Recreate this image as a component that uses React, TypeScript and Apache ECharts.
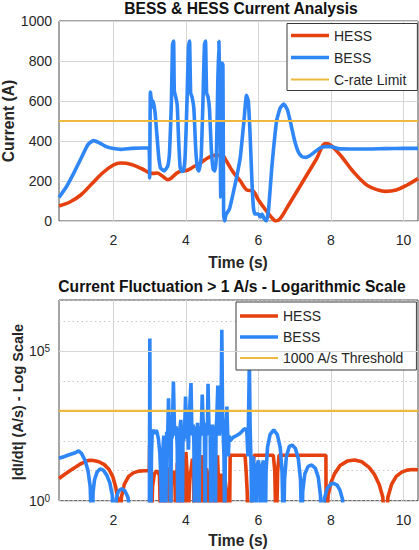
import React, { useEffect, useRef } from 'react';
import * as echarts from 'echarts';

// ---------- data ----------
const timeTicks = [2, 4, 6, 8, 10];
const timeRange = [0.5, 10.4];
const cRateLimit = 500;
const rateThreshold = 1000;

// Current (A) vs time (s)
const hessCurrent: [number, number][] = [
  [0.5, 75], [0.8, 95], [1.1, 130], [1.4, 185], [1.7, 240], [2.0, 280], [2.2, 290], [2.5, 283],
  [2.8, 260], [3.0, 240], [3.1, 238], [3.2, 240], [3.35, 225], [3.5, 207], [3.6, 215], [3.75, 240],
  [3.9, 252], [4.0, 252], [4.2, 270], [4.4, 290], [4.6, 315], [4.8, 328], [5.0, 328], [5.1, 305],
  [5.3, 245], [5.5, 200], [5.68, 155], [5.85, 150], [6.0, 105], [6.2, 55], [6.4, 10], [6.48, 0],
  [6.6, 12], [6.8, 70], [7.0, 130], [7.3, 220], [7.6, 310], [7.85, 387], [8.0, 378], [8.3, 320],
  [8.6, 250], [9.0, 178], [9.3, 155], [9.5, 148], [9.8, 155], [10.1, 180], [10.4, 212],
];

const bessCurrent: [number, number][] = [
  [0.5, 118], [0.7, 170], [0.9, 237], [1.1, 310], [1.3, 382], [1.45, 402], [1.6, 392], [1.8, 372],
  [2.0, 362], [2.2, 358], [2.5, 363], [2.8, 365], [2.98, 365], [3.0, 215], [3.02, 645], [3.05, 600],
  [3.07, 570], [3.1, 600], [3.15, 540], [3.2, 430], [3.25, 320], [3.3, 265], [3.4, 250], [3.5, 275],
  [3.55, 350], [3.6, 600], [3.63, 880], [3.66, 900], [3.68, 650], [3.72, 620], [3.76, 580], [3.8, 400],
  [3.84, 270], [3.88, 248], [3.93, 250], [3.98, 330], [4.03, 600], [4.07, 870], [4.1, 900], [4.13, 640],
  [4.17, 620], [4.22, 560], [4.27, 360], [4.32, 260], [4.36, 250], [4.42, 320], [4.47, 600], [4.51, 880],
  [4.54, 900], [4.57, 640], [4.61, 620], [4.65, 560], [4.7, 360], [4.75, 260], [4.8, 250], [4.84, 330],
  [4.88, 700], [4.91, 900], [4.94, 520], [4.96, 120], [4.98, 500], [5.0, 790], [5.02, 780], [5.04, 30],
  [5.07, 0], [5.1, 30], [5.2, 60], [5.3, 137], [5.4, 220], [5.5, 320], [5.6, 500], [5.67, 628],
  [5.72, 600], [5.77, 430], [5.82, 200], [5.86, 70], [5.9, 35], [6.0, 35], [6.05, 20], [6.1, 35],
  [6.15, 15], [6.22, 0], [6.28, 60], [6.37, 270], [6.5, 500], [6.6, 565], [6.7, 585], [6.8, 555],
  [6.9, 480], [7.0, 400], [7.1, 345], [7.2, 322], [7.3, 318], [7.4, 325], [7.55, 345], [7.7, 365],
  [7.85, 372], [8.0, 372], [8.2, 362], [8.5, 360], [9.0, 360], [9.5, 362], [10.0, 363], [10.4, 363],
];

// |dI/dt| (A/s) vs time (s)
const hessRate: [number, number][] = [
  [0.5, 5.5], [0.65, 7.5], [0.8, 10], [0.95, 13], [1.1, 17], [1.25, 21], [1.35, 22.5], [1.45, 22],
  [1.6, 20], [1.75, 16], [1.88, 11], [1.98, 6.5], [2.06, 3], [2.12, 1.2], [2.17, 0.05], [2.22, 1.3],
  [2.3, 3.5], [2.42, 6.5], [2.55, 8.5], [2.7, 9.7], [2.85, 10], [2.99, 10], [3.0, 72], [3.02, 20],
  [3.04, 0.05], [3.08, 3], [3.13, 8], [3.2, 10], [3.27, 7], [3.31, 0.05], [3.34, 12], [3.37, 2],
  [3.4, 0.05], [3.45, 5], [3.5, 13], [3.53, 3], [3.56, 0.05], [3.6, 6], [3.66, 10], [3.7, 3],
  [3.73, 0.05], [3.76, 18], [3.79, 5], [3.82, 0.05], [3.86, 8], [3.9, 12], [3.94, 3], [3.97, 0.05],
  [4.0, 42], [4.03, 10], [4.06, 0.05], [4.1, 6], [4.14, 10], [4.18, 25], [4.21, 4], [4.24, 0.05],
  [4.28, 8], [4.32, 12], [4.36, 2], [4.39, 0.05], [4.42, 33], [4.46, 8], [4.49, 0.05], [4.53, 9],
  [4.57, 12], [4.61, 3], [4.64, 0.05], [4.68, 10], [4.72, 12], [4.76, 4], [4.79, 0.05], [4.83, 10],
  [4.87, 33], [4.9, 4], [4.93, 0.05], [4.97, 8], [5.0, 4], [5.03, 0.05], [5.08, 5], [5.12, 2],
  [5.16, 0.05], [5.2, 0.05], [5.22, 33], [5.63, 33], [5.66, 10], [5.69, 2], [5.72, 0.05], [5.78, 0.05],
  [5.82, 3], [5.85, 15], [5.88, 33], [6.41, 33], [6.45, 10], [6.49, 0.05], [6.53, 10], [6.57, 33],
  [7.86, 33], [7.87, 0.05], [7.92, 1.5], [8.0, 4], [8.1, 8], [8.25, 15], [8.45, 21], [8.65, 23],
  [8.85, 20], [9.05, 13], [9.2, 7.5], [9.33, 3.5], [9.43, 1.3], [9.5, 0.05], [9.57, 1.3], [9.67, 3.5],
  [9.8, 6.5], [9.95, 9], [10.1, 10.5], [10.25, 11], [10.4, 10.8],
];

const bessRate: [number, number][] = [
  [0.5, 26], [0.65, 30], [0.8, 35], [0.95, 40], [1.04, 46], [1.12, 38], [1.22, 22], [1.3, 10],
  [1.36, 3], [1.41, 0.05], [1.44, 2], [1.48, 5], [1.55, 9], [1.63, 11.5], [1.72, 10.5], [1.82, 7],
  [1.9, 4], [1.97, 1.5], [2.02, 0.05], [2.05, 0.05], [2.08, 1.2], [2.14, 2.1], [2.23, 2.5], [2.32, 2.1],
  [2.4, 1.3], [2.45, 0.5], [2.48, 0.05], [2.99, 0.05], [3.005, 260000], [3.015, 5], [3.03, 0.05],
  [3.05, 30], [3.07, 200], [3.1, 230], [3.14, 170], [3.17, 220], [3.2, 200], [3.24, 120], [3.28, 40],
  [3.31, 5], [3.33, 0.05], [3.36, 40], [3.39, 150], [3.42, 30], [3.44, 0.05], [3.47, 200],
  [3.49, 60], [3.52, 2600], [3.54, 300], [3.56, 80], [3.58, 0.05], [3.6, 250], [3.62, 120],
  [3.655, 9500], [3.68, 400], [3.7, 150], [3.72, 300], [3.74, 250], [3.76, 60], [3.78, 0.05],
  [3.8, 120], [3.82, 40], [3.84, 300], [3.86, 500], [3.88, 80], [3.9, 0.05], [3.92, 200], [3.94, 100],
  [3.97, 400], [3.99, 3000], [4.01, 300], [4.03, 120], [4.05, 250], [4.07, 50], [4.09, 600],
  [4.14, 8500], [4.16, 400], [4.18, 150], [4.2, 350], [4.22, 80], [4.24, 0.05], [4.26, 150],
  [4.28, 300], [4.3, 80], [4.32, 400], [4.34, 30], [4.36, 0.05], [4.38, 100], [4.4, 300], [4.42, 150],
  [4.45, 3500], [4.47, 600], [4.49, 200], [4.51, 300], [4.53, 0.05], [4.55, 200], [4.57, 400],
  [4.59, 150], [4.61, 8000], [4.63, 500], [4.65, 150], [4.67, 250], [4.69, 0.05], [4.71, 120],
  [4.73, 350], [4.75, 100], [4.77, 300], [4.79, 40], [4.81, 0.05], [4.83, 250], [4.85, 500],
  [4.88, 7000], [4.9, 600], [4.92, 150], [4.94, 300], [4.97, 1200], [4.99, 510000], [5.01, 800],
  [5.03, 150], [5.05, 30], [5.07, 0.05], [5.09, 150], [5.11, 300], [5.13, 1400], [5.15, 200],
  [5.17, 30], [5.19, 150], [5.22, 100], [5.3, 130], [5.4, 150], [5.5, 180], [5.58, 230],
  [5.64, 260], [5.68, 200], [5.71, 30], [5.75, 50000], [5.77, 300], [5.8, 10], [5.82, 0.05], [5.86, 30],
  [5.9, 5], [5.92, 0.05], [5.96, 15], [6.0, 22], [6.04, 5], [6.06, 0.05], [6.1, 15], [6.14, 22],
  [6.17, 5], [6.19, 0.05], [6.21, 10], [6.25, 60], [6.32, 160], [6.42, 230], [6.52, 160], [6.6, 60],
  [6.65, 10], [6.69, 0.05], [6.72, 5], [6.77, 30], [6.85, 65], [6.93, 72], [7.02, 55], [7.1, 25],
  [7.16, 5], [7.2, 0.05], [7.22, 2], [7.28, 8], [7.37, 14], [7.47, 15.5], [7.57, 12], [7.65, 6],
  [7.71, 1.5], [7.75, 0.05], [7.8, 0.05], [7.82, 1.2], [7.9, 2.6], [8.0, 3.6], [8.07, 3.8], [8.17, 3.3],
  [8.25, 2.2], [8.32, 1.1], [8.35, 0.05], [10.4, 0.05],
];

// ---------- style ----------
const FONT = '"Liberation Sans", Arial, Helvetica, sans-serif';
const RED = '#E4410F';
const BLUE = '#2F86F6';
const YEL = '#EDB93E';
const GRID_C = '#d6d6d6';
const AX_C = '#4a4a4a';
const TXT = '#262626';
const THICK_ICON = 'path://M0 0H38V3.6H0Z';
const THIN_ICON = 'path://M0 0H38V2.2H0Z';

function logLabel(v: number): string {
  const e = Math.log10(v);
  const n = Math.round(e);
  if (Math.abs(e - n) > 1e-6) return '';
  if (n === 0 || n === 5) return `{b|10}{s|${n}}`;
  return '';
}

export default function App() {
  const ref = useRef<HTMLDivElement>(null);
  useEffect(() => {
    if (!ref.current) return;
    const chart = echarts.init(ref.current, undefined, { renderer: 'svg' });
    const xAxisBase = (gi: number) => ({
      type: 'value',
      gridIndex: gi,
      min: timeRange[0],
      max: timeRange[1],
      axisLine: { show: false },
      axisTick: { show: false, customValues: timeTicks },
      axisLabel: { customValues: timeTicks, color: TXT, fontSize: 14, fontFamily: FONT, margin: 12 },
      splitLine: { show: true, lineStyle: { color: GRID_C, width: 1 } },
    });
    const legendBase = {
      orient: 'vertical', itemWidth: 38, itemHeight: 14,
      borderColor: '#3a3a3a', borderWidth: 1, backgroundColor: '#ffffff',
      selectedMode: false, textStyle: { fontSize: 14, color: TXT, fontFamily: FONT },
    };
    const option: any = {
      animation: false,
      backgroundColor: '#ffffff',
      grid: [
        { left: 59, top: 21, width: 359, height: 200, show: true, borderColor: AX_C, borderWidth: 1, backgroundColor: 'transparent' },
        { left: 59, top: 300, width: 359, height: 200.7, show: true, borderColor: AX_C, borderWidth: 1, backgroundColor: 'transparent' },
      ],
      xAxis: [xAxisBase(0), xAxisBase(1)],
      yAxis: [
        {
          type: 'value', gridIndex: 0, min: 0, max: 1000, interval: 200,
          axisLine: { show: false }, axisTick: { show: false },
          axisLabel: { color: TXT, fontSize: 14, fontFamily: FONT, margin: 7, formatter: (v: number) => String(v) },
          splitLine: { show: true, lineStyle: { color: GRID_C, width: 1 } },
        },
        {
          type: 'log', gridIndex: 1, logBase: 10, min: 1, max: 5e6,
          axisLine: { show: false }, axisTick: { show: false },
          axisLabel: {
            formatter: logLabel, margin: 9, color: TXT, fontFamily: FONT,
            rich: {
              b: { fontSize: 14, lineHeight: 14, padding: [7, 0, 0, 0], color: TXT, fontFamily: FONT, verticalAlign: 'bottom' },
              s: { fontSize: 10, lineHeight: 12, color: TXT, fontFamily: FONT, verticalAlign: 'top' },
            },
          },
          splitLine: { show: true, lineStyle: { color: '#c4c4c4', width: 1, type: [1.5, 3] } },
        },
      ],
      legend: [
        {
          ...legendBase, left: 287, top: 23.5, itemGap: 8, padding: [5, 11, 4, 4],
          data: [
            { name: 'HESS', icon: THICK_ICON },
            { name: 'BESS', icon: THICK_ICON },
            { name: 'C-rate Limit', icon: THIN_ICON },
          ],
        },
        {
          ...legendBase, left: 236, top: 302, itemGap: 7, padding: [7, 12, 5, 4],
          data: [
            { name: 'HESS', icon: THICK_ICON },
            { name: 'BESS', icon: THICK_ICON },
            { name: '1000 A/s Threshold', icon: THIN_ICON },
          ],
        },
      ],
      graphic: [
        { type: 'text', x: 241, y: 8, style: { text: 'BESS & HESS Current Analysis', font: `bold 15.6px ${FONT}`, fill: '#111', align: 'center', verticalAlign: 'middle' } },
        { type: 'text', x: 232, y: 286, style: { text: 'Current Fluctuation > 1 A/s - Logarithmic Scale', font: `bold 15.6px ${FONT}`, fill: '#111', align: 'center', verticalAlign: 'middle' } },
        { type: 'text', x: 238, y: 262, style: { text: 'Time (s)', font: `bold 15.6px ${FONT}`, fill: TXT, align: 'center', verticalAlign: 'middle' } },
        { type: 'text', x: 238, y: 540, style: { text: 'Time (s)', font: `bold 15.6px ${FONT}`, fill: TXT, align: 'center', verticalAlign: 'middle' } },
        { type: 'text', x: 8, y: 121, rotation: Math.PI / 2, style: { text: 'Current (A)', font: `bold 15.6px ${FONT}`, fill: TXT, align: 'center', verticalAlign: 'middle' } },
        { type: 'text', x: 18, y: 402, rotation: Math.PI / 2, style: { text: '|dI/dt| (A/s) - Log Scale', font: `bold 14.5px ${FONT}`, fill: TXT, align: 'center', verticalAlign: 'middle' } },
      ],
      series: [
        {
          name: 'HESS', type: 'line', xAxisIndex: 0, yAxisIndex: 0, data: hessCurrent, symbol: 'none',
          smooth: 0.35, lineStyle: { color: RED, width: 3.6 }, itemStyle: { color: RED }, z: 2,
        },
        {
          name: 'BESS', type: 'line', xAxisIndex: 0, yAxisIndex: 0, data: bessCurrent, symbol: 'none',
          smooth: 0.15, lineStyle: { color: BLUE, width: 3.6 }, itemStyle: { color: BLUE }, z: 3,
        },
        {
          name: 'C-rate Limit', type: 'line', xAxisIndex: 0, yAxisIndex: 0,
          data: [[timeRange[0], cRateLimit], [timeRange[1], cRateLimit]], symbol: 'none',
          lineStyle: { color: YEL, width: 2.2 }, itemStyle: { color: YEL }, z: 4,
        },
        {
          name: 'grid5', type: 'line', xAxisIndex: 1, yAxisIndex: 1, data: [], symbol: 'none', z: 1, silent: true,
          markLine: {
            silent: true, symbol: ['none', 'none'], label: { show: false },
            lineStyle: { color: GRID_C, type: 'solid', width: 1 },
            data: [{ yAxis: 100000 }],
          },
        },
        {
          name: 'HESS', type: 'line', xAxisIndex: 1, yAxisIndex: 1, data: hessRate, symbol: 'none',
          lineStyle: { color: RED, width: 3.6 }, itemStyle: { color: RED }, z: 2,
        },
        {
          name: 'BESS', type: 'line', xAxisIndex: 1, yAxisIndex: 1, data: bessRate, symbol: 'none',
          lineStyle: { color: BLUE, width: 3.6 }, itemStyle: { color: BLUE }, z: 3,
        },
        {
          name: '1000 A/s Threshold', type: 'line', xAxisIndex: 1, yAxisIndex: 1,
          data: [[timeRange[0], rateThreshold], [timeRange[1], rateThreshold]], symbol: 'none',
          lineStyle: { color: YEL, width: 2.2 }, itemStyle: { color: YEL }, z: 4,
        },
      ],
    };
    chart.setOption(option);
    return () => chart.dispose();
  }, []);
  return (
    <div
      ref={ref}
      style={{ position: 'fixed', left: 0, top: 0, width: 419, height: 550, background: '#ffffff' }}
    />
  );
}
